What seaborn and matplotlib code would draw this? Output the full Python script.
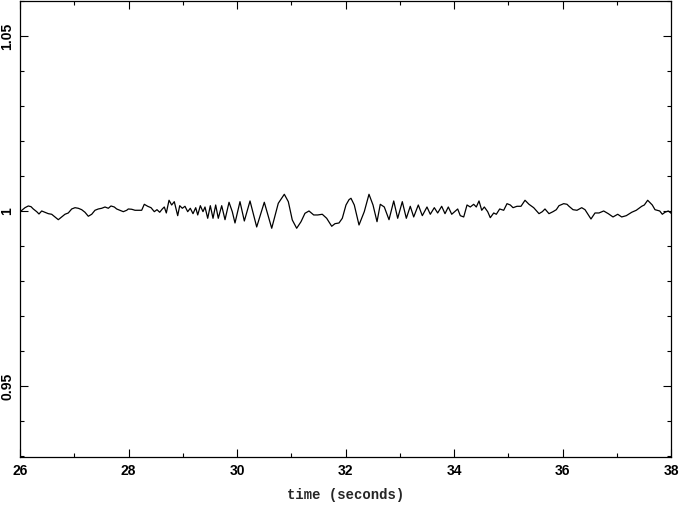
import numpy as np
import pandas as pd
import seaborn as sns
import matplotlib
matplotlib.use('Agg')
import matplotlib.pyplot as plt
from matplotlib.ticker import MultipleLocator, FixedLocator, FixedFormatter

# time (s) and deviation from 1 (in units of 1e-3)
t = [26.018, 26.092, 26.153, 26.203, 26.245, 26.308, 26.350, 26.400, 26.461, 26.522,
     26.584, 26.645, 26.706, 26.769, 26.829, 26.890, 26.953, 27.014, 27.075, 27.137,
     27.198, 27.259, 27.322, 27.382, 27.443, 27.506, 27.567, 27.628, 27.677, 27.738,
     27.782, 27.843, 27.904, 27.967, 27.996, 28.059, 28.120, 28.181, 28.243, 28.291,
     28.354, 28.415, 28.476, 28.525, 28.575, 28.623, 28.660, 28.697, 28.747, 28.796,
     28.844, 28.907, 28.944, 28.992, 29.041, 29.091, 29.139, 29.189, 29.239, 29.276,
     29.324, 29.373, 29.410, 29.460, 29.508, 29.558, 29.607, 29.655, 29.718, 29.779,
     29.853, 29.913, 29.963, 30.055, 30.135, 30.240, 30.363, 30.503, 30.640, 30.761,
     30.872, 30.946, 31.019, 31.100, 31.180, 31.253, 31.327, 31.414, 31.488, 31.572,
     31.653, 31.746, 31.806, 31.880, 31.941, 32.009, 32.065, 32.101, 32.162, 32.249,
     32.346, 32.433, 32.507, 32.581, 32.641, 32.715, 32.802, 32.889, 32.962, 33.047,
     33.121, 33.194, 33.257, 33.342, 33.416, 33.502, 33.563, 33.637, 33.699, 33.773,
     33.834, 33.895, 33.958, 34.068, 34.116, 34.179, 34.240, 34.300, 34.363, 34.411,
     34.461, 34.511, 34.559, 34.621, 34.669, 34.732, 34.780, 34.842, 34.916, 34.977,
     35.038, 35.088, 35.161, 35.235, 35.309, 35.382, 35.469, 35.567, 35.628, 35.677,
     35.751, 35.825, 35.886, 35.935, 36.022, 36.083, 36.120, 36.194, 36.267, 36.354,
     36.415, 36.525, 36.599, 36.673, 36.759, 36.844, 36.931, 37.018, 37.091, 37.176,
     37.276, 37.360, 37.460, 37.508, 37.570, 37.655, 37.705, 37.792, 37.840, 37.889,
     37.950, 38.012]
dev = [0.00, 0.94, 1.43, 1.23, 0.57, -0.20, -0.86, 0.00, -0.37, -0.77,
       -0.94, -1.71, -2.49, -1.71, -0.94, -0.57, 0.57, 0.94, 0.77, 0.37,
       -0.37, -1.51, -0.94, 0.20, 0.57, 0.77, 1.14, 0.77, 1.43, 1.14,
       0.57, 0.20, -0.20, 0.20, 0.57, 0.49, 0.20, 0.20, 0.20, 1.91,
       1.34, 0.94, -0.20, 0.37, -0.37, 0.57, 1.14, -0.57, 3.06, 1.71,
       2.66, -1.34, 1.51, 0.77, 1.34, -0.20, 0.77, -0.77, 0.94, -1.14,
       1.51, -0.20, 1.14, -2.09, 1.51, -2.09, 1.71, -2.09, 1.51, -2.49,
       2.49, -0.20, -3.43, 2.66, -2.86, 2.86, -4.57, 2.49, -4.94, 2.20,
       4.77, 2.66, -2.57, -4.94, -3.06, -0.66, 0.00, -1.14, -1.14, -0.94,
       -2.09, -4.37, -3.63, -3.43, -2.09, 1.71, 3.23, 3.63, 1.71, -4.00,
       -0.20, 4.77, 1.71, -3.06, 1.91, 1.14, -2.49, 2.86, -2.09, 2.66,
       -2.09, 1.34, -1.71, 1.71, -1.34, 1.14, -0.94, 0.94, -0.57, 1.34,
       -0.77, 1.14, -0.94, 0.57, -1.34, -1.71, 1.71, 1.14, 1.91, 1.14,
       2.86, 0.20, 1.14, -0.20, -1.91, -0.57, -0.94, 0.57, 0.20, 2.09,
       1.71, 0.94, 1.34, 1.34, 3.06, 1.91, 0.94, -0.77, -0.20, 0.57,
       -0.77, -0.20, 0.37, 1.51, 2.09, 1.91, 1.34, 0.37, 0.20, 0.94,
       0.37, -2.29, -0.57, -0.57, 0.00, -0.77, -1.71, -0.94, -1.71, -1.34,
       -0.37, 0.20, 1.34, 1.71, 3.06, 1.71, 0.37, 0.00, -0.94, -0.37,
       0.00, -0.77]

xticks = [26, 28, 30, 32, 34, 36, 38]
yticks = [0.95, 1.0, 1.05]
ytick_labels = ['0.95', '1', '1.05']

df = pd.DataFrame({'time': t, 'value': 1 + np.array(dev) / 1000})

sns.set_style('ticks')
fig = plt.figure(figsize=(6.81, 5.05), dpi=100)
ax = fig.add_axes([20 / 681, 48 / 505, 651 / 681, 456 / 505])

sns.lineplot(data=df, x='time', y='value', ax=ax, color='black', lw=0.9,
             estimator=None, sort=False)

ax.set_xlim(26, 38)
ax.set_ylim(0.9297, 1.06)
ax.xaxis.set_major_locator(FixedLocator(xticks))
ax.xaxis.set_minor_locator(MultipleLocator(1))
ax.yaxis.set_major_locator(FixedLocator(yticks))
ax.yaxis.set_major_formatter(FixedFormatter(ytick_labels))
ax.yaxis.set_minor_locator(MultipleLocator(0.01))

ax.tick_params(which='both', direction='in', top=True, right=True,
               width=0.8, colors='black', labelsize=10)
ax.tick_params(which='major', length=5.5)
ax.tick_params(which='minor', length=3)
ax.tick_params(axis='x', pad=5)
ax.tick_params(axis='y', pad=4)
for lab in ax.get_yticklabels():
    lab.set_rotation(90)
    lab.set_va('center')
for lab in ax.get_xticklabels() + ax.get_yticklabels():
    lab.set_fontfamily('Liberation Sans')
    lab.set_fontweight('bold')

for s in ax.spines.values():
    s.set_linewidth(0.9)
    s.set_color('black')

ax.set_xlabel('time (seconds)', family='Liberation Mono', fontsize=10,
              fontweight='bold', labelpad=7)
ax.set_ylabel('')

fig.savefig('out.png', dpi=100)
